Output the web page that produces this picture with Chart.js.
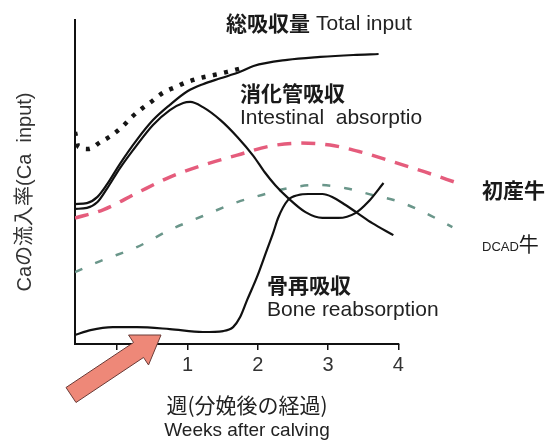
<!DOCTYPE html>
<html><head><meta charset="utf-8">
<script src="https://cdn.jsdelivr.net/npm/chart.js@4.4.0/dist/chart.umd.min.js"></script>
<style>html,body{margin:0;padding:0;background:#fff;}canvas{display:block;}</style>
</head><body>
<canvas id="c" width="553" height="445"></canvas>
<script>
// x axis: weeks after calving
const xTickValues = [0, 1, 2, 3, 4];
const xTickLabels = ['', '1', '2', '3', '4'];
const xAxisEnd = 4;

// Total input (solid)
const totalX = [-0.60, -0.43, -0.28, -0.14, 0.04, 0.28, 0.51, 0.75, 1.00, 1.22, 1.47, 1.75, 1.94, 2.42, 2.89, 3.36, 3.72];
const totalY = [43.2, 43.5, 45.4, 49.4, 55.6, 63.0, 69.1, 73.8, 78.0, 80.2, 82.0, 84.0, 85.8, 87.7, 88.6, 89.2, 89.5];

// Total input (dotted part)
const dottedX = [-0.60, -0.55, -0.41, -0.24, -0.07, 0.07, 0.21, 0.36, 0.50, 0.65, 0.83, 1.00, 1.18, 1.37, 1.57, 1.75];
const dottedY = [65.4, 60.8, 60.2, 62.3, 64.5, 67.0, 70.1, 72.8, 75.0, 77.5, 79.3, 80.9, 82.1, 83.0, 84.0, 85.0];

// Intestinal absorption
const intestX = [-0.60, -0.43, -0.28, -0.14, 0.04, 0.28, 0.51, 0.75, 0.94, 1.04, 1.22, 1.47, 1.71, 1.94, 2.10, 2.25, 2.43, 2.68, 2.92, 3.15, 3.39, 3.57, 3.79];
const intestY = [41.7, 42.0, 43.8, 48.1, 54.3, 61.4, 67.6, 72.2, 74.4, 74.7, 73.1, 69.1, 63.9, 58.0, 53.0, 49.0, 45.1, 40.7, 38.9, 38.9, 40.4, 43.8, 49.7];

// Bone reabsorption
const boneX = [-0.60, -0.38, -0.06, 0.28, 0.75, 1.22, 1.51, 1.65, 1.75, 1.85, 1.99, 2.13, 2.22, 2.29, 2.43, 2.58, 2.72, 2.92, 3.06, 3.25, 3.42, 3.63, 3.93];
const boneY = [2.8, 4.3, 5.2, 5.2, 4.6, 3.7, 4.0, 5.2, 8.3, 13.6, 20.7, 29.0, 34.3, 38.9, 44.4, 46.0, 46.3, 46.3, 45.4, 42.9, 40.4, 37.3, 33.6];

// 初産牛 (first-calf heifers)
const heiferX = [-0.60, -0.20, 0.28, 0.75, 1.22, 1.71, 2.18, 2.60, 3.03, 3.46, 3.93, 4.38, 4.84];
const heiferY = [38.9, 41.4, 46.6, 51.5, 55.2, 58.3, 61.1, 62.0, 61.4, 59.3, 56.2, 53.1, 49.7];

// DCAD牛
const dcadX = [-0.60, -0.24, 0.28, 0.75, 1.22, 1.71, 2.06, 2.43, 2.86, 3.25, 3.63, 3.99, 4.36, 4.77];
const dcadY = [22.2, 25.6, 29.9, 35.2, 39.5, 43.8, 46.0, 48.1, 49.1, 48.1, 46.0, 44.1, 40.7, 36.1];

const pts = (xs, ys) => xs.map((x, i) => ({x: x, y: ys[i]}));

const CJK = '"Noto Sans CJK JP", sans-serif';
const LAT = '"Liberation Sans", Arial, sans-serif';

const xAxisLine = {
  id: 'xAxisLine',
  afterDatasetsDraw(chart) {
    const ctx = chart.ctx, xs = chart.scales.x, ca = chart.chartArea;
    ctx.save();
    ctx.strokeStyle = '#111';
    ctx.lineWidth = 2;
    ctx.beginPath();
    ctx.moveTo(xs.getPixelForValue(xs.min), ca.bottom);
    ctx.lineTo(xs.getPixelForValue(xAxisEnd) + 1, ca.bottom);
    ctx.stroke();
    ctx.restore();
  }
};

const annotate = {
  id: 'annotate',
  afterDraw(chart) {
    const ctx = chart.ctx;
    ctx.save();
    ctx.textBaseline = 'middle';
    ctx.textAlign = 'left';
    const t = (s, font, x, y, color) => { ctx.font = font; ctx.fillStyle = color || '#1a1a1a'; ctx.fillText(s, x, y); };
    t('総吸収量', 'bold 21px ' + CJK, 226, 23);
    t('Total input', '21px ' + LAT, 316, 24, '#222');
    t('消化管吸収', 'bold 21px ' + CJK, 240, 93);
    t('Intestinal  absorptio', '21px ' + LAT, 240, 118, '#222');
    t('初産牛', 'bold 21px ' + CJK, 482, 190);
    ctx.font = '13px ' + LAT;
    t('DCAD', '13px ' + LAT, 482, 247, '#222');
    const w = ctx.measureText('DCAD').width;
    t('牛', '20px ' + CJK, 482 + w, 244);
    t('骨再吸収', 'bold 21px ' + CJK, 267, 285);
    t('Bone reabsorption', '21px ' + LAT, 267, 310, '#222');
    // x title
    ctx.textAlign = 'center';
    t('週(分娩後の経過)', '21px ' + CJK, 247, 405, '#222');
    t('Weeks after calving', '19px ' + LAT, 247, 431, '#222');
    // y title
    ctx.save();
    ctx.translate(25, 192);
    ctx.rotate(-Math.PI / 2);
    t('Caの流入率(Ca  input)', '20px ' + LAT + ', ' + CJK, 0, 0, '#333');
    ctx.restore();
    // arrow
    const tx = 71, ty = 395, hx = 161, hy = 335;
    const dx = hx - tx, dy = hy - ty, L = Math.hypot(dx, dy);
    const ux = dx / L, uy = dy / L, px = -uy, py = ux;
    const sh = 9, hl = 27, hh = 18;
    const bx = hx - ux * hl, by = hy - uy * hl;
    ctx.beginPath();
    ctx.moveTo(tx + px * sh, ty + py * sh);
    ctx.lineTo(bx + px * sh, by + py * sh);
    ctx.lineTo(bx + px * hh, by + py * hh);
    ctx.lineTo(hx, hy);
    ctx.lineTo(bx - px * hh, by - py * hh);
    ctx.lineTo(bx - px * sh, by - py * sh);
    ctx.lineTo(tx - px * sh, ty - py * sh);
    ctx.closePath();
    ctx.fillStyle = '#ee8878';
    ctx.fill();
    ctx.strokeStyle = '#6a3c38';
    ctx.lineWidth = 1;
    ctx.stroke();
    ctx.restore();
  }
};

const solid = (data, w) => ({data: data, borderColor: '#111', borderWidth: w || 2.2, pointRadius: 0, fill: false, cubicInterpolationMode: 'monotone'});

new Chart(document.getElementById('c'), {
  type: 'line',
  data: {
    datasets: [
      Object.assign(solid(pts(totalX, totalY)), {label: 'Total input'}),
      {label: 'Total input (dotted)', data: pts(dottedX, dottedY), borderColor: '#151515', borderWidth: 4.5, borderDash: [4, 7.5], borderCapStyle: 'butt', pointRadius: 0, fill: false, cubicInterpolationMode: 'monotone'},
      Object.assign(solid(pts(intestX, intestY)), {label: 'Intestinal absorption'}),
      Object.assign(solid(pts(boneX, boneY)), {label: 'Bone reabsorption'}),
      {label: '初産牛', data: pts(heiferX, heiferY), borderColor: '#e55c7c', borderWidth: 3.5, borderDash: [14, 10], borderCapStyle: 'butt', pointRadius: 0, fill: false, cubicInterpolationMode: 'monotone'},
      {label: 'DCAD牛', data: pts(dcadX, dcadY), borderColor: '#6a968a', borderWidth: 2.5, borderDash: [8, 14], borderCapStyle: 'butt', pointRadius: 0, fill: false, cubicInterpolationMode: 'monotone'}
    ]
  },
  options: {
    responsive: false,
    animation: false,
    devicePixelRatio: 1,
    layout: {padding: {left: 75, right: 95, top: 20, bottom: 65}},
    plugins: {legend: {display: false}, tooltip: {enabled: false}},
    scales: {
      x: {
        type: 'linear', min: -0.6, max: 4.85,
        afterBuildTicks: (s) => { s.ticks = xTickValues.map(v => ({value: v})); },
        grid: {display: true, drawOnChartArea: false, drawTicks: true, tickLength: 6, color: '#111', lineWidth: 1.5},
        border: {display: false},
        ticks: {padding: 3, color: '#333', font: {family: 'Liberation Sans', size: 20}, maxRotation: 0, autoSkip: false,
          callback: (v) => { const i = xTickValues.indexOf(v); return i >= 0 ? xTickLabels[i] : ''; }}
      },
      y: {
        type: 'linear', min: 0, max: 100,
        grid: {display: false, drawTicks: false, tickLength: 0},
        border: {display: true, color: '#111', width: 2},
        ticks: {display: false}
      }
    }
  },
  plugins: [xAxisLine, annotate]
});
</script>
</body></html>
